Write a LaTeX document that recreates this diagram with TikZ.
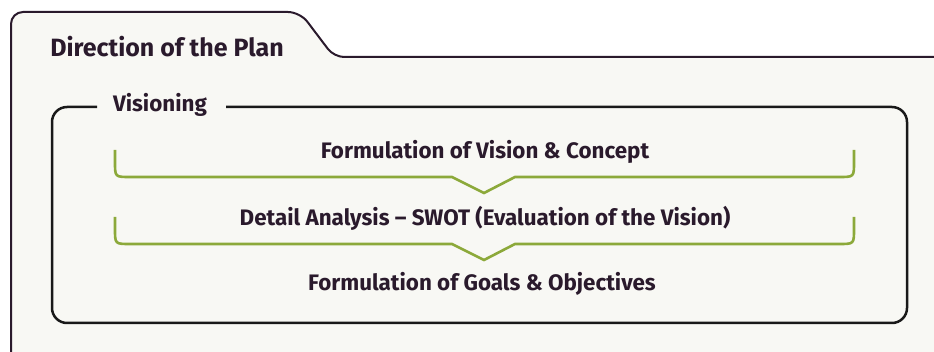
\documentclass[tikz,border=0pt]{standalone}
\usepackage{fontspec}
\setmainfont{Fira Sans}
\definecolor{bgfill}{HTML}{F8F8F4}
\definecolor{darkline}{HTML}{2A1A2C}
\definecolor{greenline}{HTML}{8CA93A}
\definecolor{txt}{HTML}{2A1A2C}
\tikzset{
  lbl/.style={font=\fontsize{22.4}{26}\selectfont\bfseries, text=txt, inner sep=0pt, anchor=center},
  titlelbl/.style={font=\fontsize{25}{28}\selectfont\bfseries, text=txt, inner sep=0pt, anchor=center},
  bracket/.style={draw=greenline, line width=2.6pt},
  folder/.style={draw=darkline, fill=bgfill, line width=2pt},
  innerbox/.style={draw=black!90, line width=2.5pt, rounded corners=15pt},
}
\begin{document}
\begin{tikzpicture}[x=1pt,y=-1pt]
\useasboundingbox (0,0) rectangle (934,352);
% outer folder
\draw[folder] (11,345) [rounded corners=12pt] -- (11,12) -- (300,12) [rounded corners=10pt] -- (334,57) [sharp corners] -- (945,57) -- (945,400) -- (11,400) -- (11,345);
\node[titlelbl] (title) at (167,47) {Direction of the Plan};
% inner box
\draw[innerbox] (97,107) -- (52,107) -- (52,323) -- (907,323) -- (907,107) -- (226,107);
\node[lbl] (vis) at (160,105) {Visioning};
% texts
\node[lbl] (s1) at (485,152) {Formulation of Vision \& Concept};
\node[lbl] (s2) at (485,218) {Detail Analysis – SWOT (Evaluation of the Vision)};
\node[lbl] (s3) at (482,284) {Formulation of Goals \& Objectives};
% brackets
\draw[bracket] (115,150) -- (115,162) .. controls (115,177) .. (130,177) -- (452,177) -- (484,193) -- (515,177) -- (839,177) .. controls (854,177) .. (854,162) -- (854,150);
\draw[bracket] (115,217) -- (115,229) .. controls (115,244) .. (130,244) -- (452,244) -- (484,260) -- (515,244) -- (839,244) .. controls (854,244) .. (854,229) -- (854,217);
\end{tikzpicture}
\end{document}
